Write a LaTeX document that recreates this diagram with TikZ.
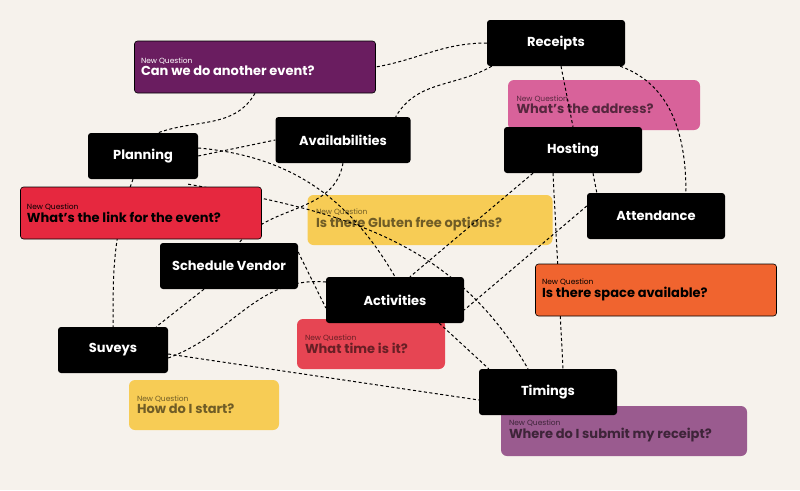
\documentclass[tikz,border=0pt]{standalone}
\usepackage{fontspec}
\setmainfont{Poppins}
\usetikzlibrary{backgrounds}
\begin{document}
\begin{tikzpicture}[x=1pt,y=-1pt,
 topic/.style={fill=black,rounded corners=3pt,text=white,font=\fontsize{13}{15}\selectfont\bfseries,minimum width=138pt,minimum height=46pt,inner sep=0pt},
 ques/.style={draw=black,line width=0.6pt,rounded corners=3pt,minimum height=52pt,inner sep=0pt},
 blur/.style={rounded corners=6pt,minimum height=50pt,inner sep=0pt},
 link/.style={line width=1pt,dash pattern=on 3pt off 2.5pt}]
\definecolor{bg}{HTML}{F6F2EC}
\definecolor{qpurple}{HTML}{6A1D60}
\definecolor{qred}{HTML}{E6283F}
\definecolor{qorange}{HTML}{F0642F}
\definecolor{bpink}{HTML}{D8629A}
\definecolor{byellow}{HTML}{F7CC55}
\definecolor{bred}{HTML}{E64553}
\definecolor{bpurple}{HTML}{9A5B8F}
\useasboundingbox (0,0) rectangle (800,490);
\newcommand{\qtext}[2]{\parbox{#1}{\fontsize{7.5}{9}\selectfont New Question\\[0pt]{\fontsize{13}{15}\selectfont\bfseries #2}}}
% questions
\node[ques,fill=qpurple,text=white,minimum width=241pt] (q1) at (255,67) {\qtext{228pt}{Can we do another event?}};
\node[ques,fill=qred,text=black,minimum width=241pt] (q2) at (141,213) {\qtext{228pt}{What’s the link for the event?}};
\node[ques,fill=qorange,text=black,minimum width=241pt] (q3) at (656,290) {\qtext{228pt}{Is there space available?}};
% topics
\node[topic] (rec) at (556,43) {Receipts};
\node[topic,minimum width=110pt] (pla) at (143,156) {Planning};
\node[topic,minimum width=135pt] (ava) at (343,140) {Availabilities};
\node[topic] (hos) at (573,150) {Hosting};
\node[topic] (att) at (656,216) {Attendance};
\node[topic] (sch) at (229,266) {Schedule Vendor};
\node[topic] (act) at (395,300) {Activities};
\node[topic,minimum width=110pt] (suv) at (113,350) {Suveys};
\node[topic] (tim) at (548,392) {Timings};
\begin{scope}[on background layer]
\fill[bg] (0,0) rectangle (800,490);
\node[blur,fill=bpink,minimum width=192pt,text=black!60!bpink] (b1) at (604,105) {\qtext{175pt}{What's the address?}};
\node[blur,fill=byellow,minimum width=245pt,text=black!55!byellow] (b2) at (430,220) {\qtext{228pt}{Is there Gluten free options?}};
\node[blur,fill=bred,minimum width=148pt,text=black!55!bred] (b3) at (371,344) {\qtext{132pt}{What time is it?}};
\node[blur,fill=byellow,minimum width=150pt,text=black!55!byellow] (b4) at (204,405) {\qtext{134pt}{How do I start?}};
\node[blur,fill=bpurple,minimum width=246pt,text=black!60!bpurple] (b5) at (624,431) {\qtext{230pt}{Where do I submit my receipt?}};
\draw[link] (q1.south) to[out=-120,in=20] ([xshift=15pt]pla.north);
\draw[link] (rec.west) to[out=180,in=10] (q1.east);
\draw[link] ([xshift=5pt]rec.south west) to[out=-150,in=60] ([xshift=-15pt]ava.north east);
\draw[link] ([xshift=5pt]rec.south) -- (hos.north);
\draw[link] ([xshift=-5pt]rec.south east) to[out=-20,in=90] ([xshift=30pt]att.north);
\draw[link] (pla.east) -- (ava.west);
\draw[link] ([yshift=8pt]pla.east) to[out=-5,in=120] (act.north);
\draw[link] ([xshift=-10pt,yshift=-5pt]pla.south east) to[out=-10,in=120] ([xshift=-20pt]tim.north);
\draw[link] ([xshift=-10pt]pla.south) to[out=-110,in=90] (suv.north);
\draw[link] (ava.south) to[out=-100,in=50] ([xshift=10pt]sch.north);
\draw[link] ([xshift=-40pt]hos.south) -- ([xshift=15pt]act.north);
\draw[link] ([xshift=-20pt]hos.south) -- ([xshift=15pt]tim.north);
\draw[link] ([xshift=20pt]hos.south) -- ([xshift=10pt]att.north west);
\draw[link] ([yshift=10pt]att.west) -- ([yshift=-10pt]act.east);
\draw[link] ([yshift=14pt]sch.east) -- ([yshift=-8pt]act.west);
\draw[link] ([xshift=-25pt]sch.south) -- ([xshift=-12pt]suv.north east);
\draw[link] ([yshift=-8pt]suv.east) to[out=20,in=175] ([yshift=18pt]act.west);
\draw[link] ([yshift=-4pt]suv.east) -- ([yshift=-8pt]tim.west);
\draw[link] ([xshift=-25pt]act.south east) -- ([xshift=10pt]tim.north west);
\end{scope}
\end{tikzpicture}
\end{document}
